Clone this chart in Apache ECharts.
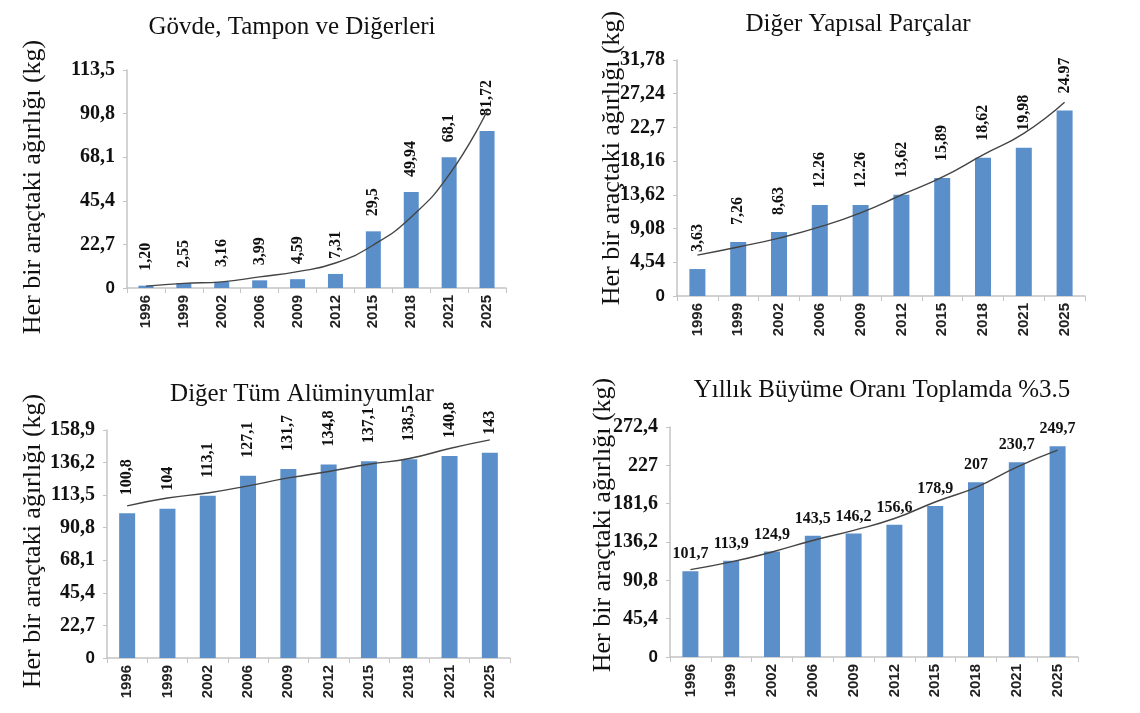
<!DOCTYPE html>
<html>
<head>
<meta charset="utf-8">
<script src="https://cdn.jsdelivr.net/npm/echarts@6/dist/echarts.min.js"></script>
<style>
  html, body { margin: 0; padding: 0; background: #fff; }
  #main { width: 1140px; height: 713px; }
</style>
</head>
<body>
<div id="main"></div>
<script>
  // kategoriler (yıllar)
  const years = ['1996', '1999', '2002', '2006', '2009', '2012', '2015', '2018', '2021', '2025']

  // Gövde, Tampon ve Diğerleri
  const govdeValues = [1.20, 2.55, 3.16, 3.99, 4.59, 7.31, 29.5, 49.94, 68.1, 81.72]
  const govdeLabels = ['1,20', '2,55', '3,16', '3,99', '4,59', '7,31', '29,5', '49,94', '68,1', '81,72']
  const govdeTrend = [1.0, 2.4, 3.2, 5.8, 8.5, 13, 22.4, 37, 59, 92]
  const govdeTicks = ['0', '22,7', '45,4', '68,1', '90,8', '113,5']

  // Diğer Yapısal Parçalar
  const yapisalValues = [3.63, 7.26, 8.63, 12.26, 12.26, 13.62, 15.89, 18.62, 19.98, 24.97]
  const yapisalLabels = ['3,63', '7,26', '8,63', '12.26', '12.26', '13,62', '15,89', '18,62', '19,98', '24.97']
  const yapisalTrend = [5.5, 6.6, 7.8, 9.3, 11.2, 13.6, 16.0, 19.0, 21.9, 26.1]
  const yapisalTicks = ['0', '4,54', '9,08', '13,62', '18,16', '22,7', '27,24', '31,78']

  // Diğer Tüm Alüminyumlar
  const digerValues = [100.8, 104, 113.1, 127.1, 131.7, 134.8, 137.1, 138.5, 140.8, 143]
  const digerLabels = ['100,8', '104', '113,1', '127,1', '131,7', '134,8', '137,1', '138,5', '140,8', '143']
  const digerTrend = [106, 111.5, 115, 120, 125.5, 130, 135, 139, 146, 152]
  const digerTicks = ['0', '22,7', '45,4', '68,1', '90,8', '113,5', '136,2', '158,9']

  // Toplam
  const toplamValues = [101.7, 113.9, 124.9, 143.5, 146.2, 156.6, 178.9, 207, 230.7, 249.7]
  const toplamLabels = ['101,7', '113,9', '124,9', '143,5', '146,2', '156,6', '178,9', '207', '230,7', '249,7']
  const toplamTrend = [103.5, 112.6, 124.4, 138, 150, 164, 183.6, 201, 225, 245]
  const toplamTicks = ['0', '45,4', '90,8', '136,2', '181,6', '227', '272,4']

  const barColor = '#5b8fca'
  const axisColor = '#c4c4c4'
  const serif = '"Liberation Serif", "DejaVu Serif", serif'
  const sans = '"Liberation Sans", Arial, sans-serif'
  const yName = 'Her bir araçtaki ağırlığı (kg)'

  const panels = [
    { title: 'Gövde, Tampon ve Diğerleri', tx: 287, ty: 10, grid: { left: 127, top: 70, width: 379, height: 218 },
      values: govdeValues, labels: govdeLabels, trend: govdeTrend, ticks: govdeTicks, interval: 22.7, barWidth: 15,
      rotate: true, dist: 15, nx: 33, ny: 187 },
    { title: 'Diğer Yapısal Parçalar', tx: 853, ty: 7, grid: { left: 677, top: 60, width: 408, height: 236 },
      values: yapisalValues, labels: yapisalLabels, trend: yapisalTrend, ticks: yapisalTicks, interval: 4.54, barWidth: 16,
      rotate: true, dist: 17, nx: 612, ny: 158 },
    { title: 'Diğer Tüm Alüminyumlar', tx: 297, ty: 377, grid: { left: 107, top: 430, width: 403, height: 228 },
      values: digerValues, labels: digerLabels, trend: digerTrend, ticks: digerTicks, interval: 22.7, barWidth: 16,
      rotate: true, dist: 18, nx: 33, ny: 541 },
    { title: 'Yıllık Büyüme Oranı Toplamda %3.5', tx: 877, ty: 373, grid: { left: 670, top: 427, width: 408, height: 230 },
      values: toplamValues, labels: toplamLabels, trend: toplamTrend, ticks: toplamTicks, interval: 45.4, barWidth: 16,
      rotate: false, dist: 9, nx: 603, ny: 525 }
  ]

  const option = {
    backgroundColor: '#fff',
    animation: false,
    title: [],
    grid: [],
    xAxis: [],
    yAxis: [],
    series: [],
    graphic: []
  }

  panels.forEach((p, i) => {
    option.title.push({
      text: p.title,
      left: p.tx,
      top: p.ty,
      textAlign: 'center',
      textStyle: { fontFamily: serif, fontSize: 25, fontWeight: 'normal', color: '#111' }
    })
    option.grid.push(p.grid)
    option.xAxis.push({
      type: 'category',
      gridIndex: i,
      data: years,
      axisLine: { lineStyle: { color: axisColor, width: 1.5 } },
      axisTick: { show: true, length: 5, lineStyle: { color: axisColor } },
      axisLabel: {
        rotate: 90,
        margin: 7,
        fontFamily: sans,
        fontWeight: 'bold',
        fontSize: 15,
        color: '#222'
      }
    })
    option.yAxis.push({
      type: 'value',
      gridIndex: i,
      min: 0,
      max: p.interval * (p.ticks.length - 1),
      interval: p.interval,
      axisLine: { show: true, lineStyle: { color: axisColor, width: 1.5 } },
      axisTick: { show: true, length: 4, lineStyle: { color: axisColor } },
      splitLine: { show: false },
      axisLabel: {
        margin: 12,
        fontFamily: serif,
        fontWeight: 'bold',
        fontSize: 20,
        color: '#111',
        formatter: (v) => {
          const k = Math.round(v / p.interval)
          return k === 0 ? '{z|0}' : p.ticks[k]
        },
        rich: { z: { fontFamily: sans, fontWeight: 'bold', fontSize: 17, color: '#111' } }
      }
    })
    option.series.push({
      type: 'bar',
      xAxisIndex: i,
      yAxisIndex: i,
      data: p.values,
      barWidth: p.barWidth,
      itemStyle: { color: barColor },
      label: p.rotate ? {
        show: true,
        position: 'top',
        rotate: 90,
        align: 'left',
        verticalAlign: 'middle',
        distance: p.dist,
        fontFamily: serif,
        fontWeight: 'bold',
        fontSize: 16,
        color: '#111',
        formatter: (d) => p.labels[d.dataIndex]
      } : {
        show: true,
        position: 'top',
        distance: p.dist,
        fontFamily: serif,
        fontWeight: 'bold',
        fontSize: 16,
        color: '#111',
        formatter: (d) => p.labels[d.dataIndex]
      }
    })
    // eğilim çizgisi
    option.series.push({
      type: 'line',
      xAxisIndex: i,
      yAxisIndex: i,
      data: p.trend,
      smooth: true,
      symbol: 'none',
      z: 5,
      lineStyle: { color: '#444', width: 1.4 }
    })
    option.graphic.push({
      type: 'text',
      x: p.nx,
      y: p.ny,
      rotation: Math.PI / 2,
      style: {
        text: yName,
        fontFamily: serif,
        fontSize: 26,
        fill: '#111',
        textAlign: 'center',
        textVerticalAlign: 'middle'
      }
    })
  })

  const chart = echarts.init(document.getElementById('main'), null, { renderer: 'canvas' })
  chart.setOption(option)
</script>
</body>
</html>
